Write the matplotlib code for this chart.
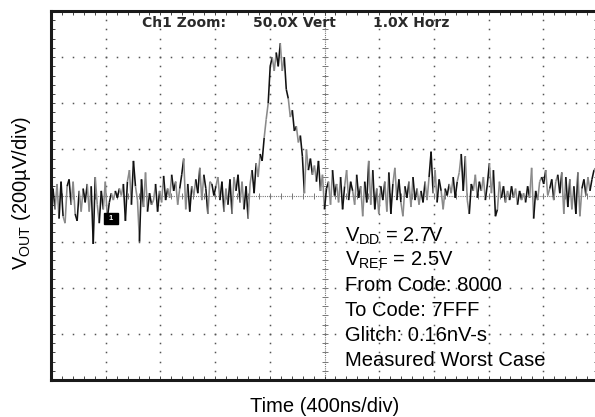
import numpy as np
import matplotlib
matplotlib.use("Agg")
import matplotlib.pyplot as plt
from matplotlib.collections import LineCollection
from matplotlib.patches import Rectangle

plt.rcParams['font.family'] = ['Liberation Sans', 'DejaVu Sans']
plt.rcParams['mathtext.fontset'] = 'custom'
plt.rcParams['mathtext.rm'] = 'Liberation Sans'

# ---- data (VOUT in microvolts, sampled evenly over 10 divisions of 400 ns) ----
vout_uV = [
    # 0 - 1.7 div
    -20, 30, -60, 50, -100, 60, -90, -120, 40, 70, -40, 60, -80, -110, 20, -70,
    30, -30, 50, -70, 40, -210, 80, -40, -120, 20, -60, 60, -100, -30, 10, -20,
    20, -10, 30, 0, 50, -110, 60, 110, -40, 150, 40, -20, -200, 70,
    # 1.7 - 3.4 div
    -50, 100, -70, 10, -40, -20, 50, -70, 20, -30, 85, -20, 30, -10, 90, 20,
    60, -40, 30, 90, 160, -60, 50, -70, 40, 0, 70, 10, 120, -20, 90, 30,
    -80, 60, 50, 0, 40, 80, -20, 60, -70, 30, -40, 70, -80, 80,
    # 3.4 - 5.0 div (glitch)
    20, 90, -30, 60, -60, 40, -100, 50, 110, 10, 140, 80, 180, 150, 250, 330,
    400, 560, 600, 540, 620, 560, 660, 540, 600, 460, 420, 340, 370, 280, 300, 230,
    260, 170, 10, 200, 110, 160, 90, 130, 60, 150, 20, 90, -60, 30,
    # 5.0 - 6.7 div
    60, -40, 110, 0, 50, -30, 80, -60, 40, 110, -20, 60, 20, -40, 90, -10,
    40, -90, 60, -30, 150, -40, 110, -60, 30, -80, 40, -20, 60, -70, 100, -80,
    50, 120, -20, 70, -30, -90, 40, -10, 60, -50, 80, -20, 30, -40,
    # 6.7 - 8.4 div
    20, -30, 60, -20, 80, 190, 10, 110, -30, 70, 20, -60, 30, 0, 50, 10,
    80, -10, 60, 100, 180, 20, 170, -20, -80, 50, 20, 90, -10, 60, 20, 80,
    -20, 50, 140, 10, 110, -90, -60, 60, -10, 40, -30, 20, -20, 40,
    # 8.4 - 10 div
    -10, 30, -40, 20, -20, 10, -30, 40, -10, 120, -100, 20, -20, 60, 80, 50,
    110, 0, 30, 70, -20, 60, 90, 10, 100, -80, 80, -50, 70, -60, 40, -80,
    100, -90, 30, 70, 0, 80, 20, 70, 110, 120, -20,
]

ns_per_div = 400
uV_per_div = 200
n_xdiv = 10
n_ydiv = 8

header_parts = ["Ch1 Zoom:", "50.0X Vert", "1.0X Horz"]
note_lines = [
    r"$\mathregular{V_{DD}}$ = 2.7V",
    r"$\mathregular{V_{REF}}$ = 2.5V",
    "From Code: 8000",
    "To Code: 7FFF",
    "Glitch: 0.16nV-s",
    "Measured Worst Case",
]
xlabel = "Time (400ns/div)"
ylabel = r"$\mathregular{V_{OUT}}$ (200µV/div)"

# ---- figure ----
W, H = 595, 417
fig = plt.figure(figsize=(W / 100, H / 100), dpi=100)
ax = fig.add_axes([51 / W, (H - 380) / H, 547 / W, 369 / H])

xmax = ns_per_div * n_xdiv
ymax = uV_per_div * n_ydiv / 2
ax.set_xlim(0, xmax)
ax.set_ylim(-ymax, ymax)

# grid dots at major divisions (dots at each 1/5 division)
minor_x = np.arange(0, xmax + 1, ns_per_div / 5)
minor_y = np.arange(-ymax, ymax + 1, uV_per_div / 5)
for k in range(1, n_xdiv):
    xg = k * ns_per_div
    if k == n_xdiv // 2:
        continue
    ax.plot(np.full_like(minor_y, xg), minor_y, ls='none', marker='s',
            ms=1.1, color='#555555', mew=0, zorder=1)
for k in range(1, n_ydiv):
    yg = -ymax + k * uV_per_div
    if k == n_ydiv // 2:
        continue
    ax.plot(minor_x, np.full_like(minor_x, yg), ls='none', marker='s',
            ms=1.1, color='#555555', mew=0, zorder=1)

# center cross rulers
xc = xmax / 2
ax.axhline(0, color='#777777', lw=0.8, ls=(0, (1, 1)), zorder=1)
ax.axvline(xc, color='#777777', lw=0.8, ls=(0, (1, 1)), zorder=1)
ax.plot(minor_x, np.zeros_like(minor_x), ls='none', marker='|', ms=4,
        mew=0.7, color='#777777', zorder=1)
ax.plot(np.full_like(minor_y, xc), minor_y, ls='none', marker='_', ms=4,
        mew=0.7, color='#777777', zorder=1)

# trace
v = np.asarray(vout_uV, dtype=float)
t = np.linspace(0, xmax, len(v))
pts = np.column_stack([t, v])
segs = np.stack([pts[:-1], pts[1:]], axis=1)
cols = ['#111111' if (i // 2) % 2 == 0 else '#8a8a8a' for i in range(len(segs))]
lc = LineCollection(segs, colors=cols, linewidths=1.15, zorder=3)
ax.add_collection(lc)

# channel ground marker
mx0, mx1 = 0.97 * ns_per_div, 1.23 * ns_per_div
my0, my1 = -122, -74
ax.add_patch(Rectangle((mx0, my0), mx1 - mx0, my1 - my0, color='black', zorder=4))
ax.text((mx0 + mx1) / 2, (my0 + my1) / 2, "1", color='white', fontsize=5.5,
        ha='center', va='center', fontweight='bold', zorder=5)

# frame and ticks
for s in ax.spines.values():
    s.set_linewidth(2.2)
    s.set_color('#1a1a1a')
ax.set_xticks(np.arange(0, xmax + 1, ns_per_div))
ax.set_yticks(np.arange(-ymax, ymax + 1, uV_per_div))
ax.set_xticks(minor_x, minor=True)
ax.set_yticks(minor_y, minor=True)
ax.tick_params(which='both', direction='in', length=3, width=0.7,
               color='#444444', top=True, right=True,
               labelbottom=False, labelleft=False)

# header text
hx = [142, 253, 373]
for x, s in zip(hx, header_parts):
    fig.text(x / W, 1 - 23 / H, s, fontsize=10, fontweight='bold',
             family='DejaVu Sans', color='#2a2a2a', va='center', ha='left')

# notes
baselines = [242, 266, 291, 316, 341, 366]
for yb, s in zip(baselines, note_lines):
    fig.text(345 / W, 1 - yb / H, s, fontsize=14.5, va='baseline', ha='left',
             color='black')

# axis labels
fig.text((51 + 547 / 2) / W, 1 - 406 / H, xlabel, fontsize=14.5,
         ha='center', va='center')
fig.text(22 / W, 1 - 193 / H, ylabel, fontsize=14.5, rotation=90,
         ha='center', va='center')

fig.savefig("out.png", dpi=100)
